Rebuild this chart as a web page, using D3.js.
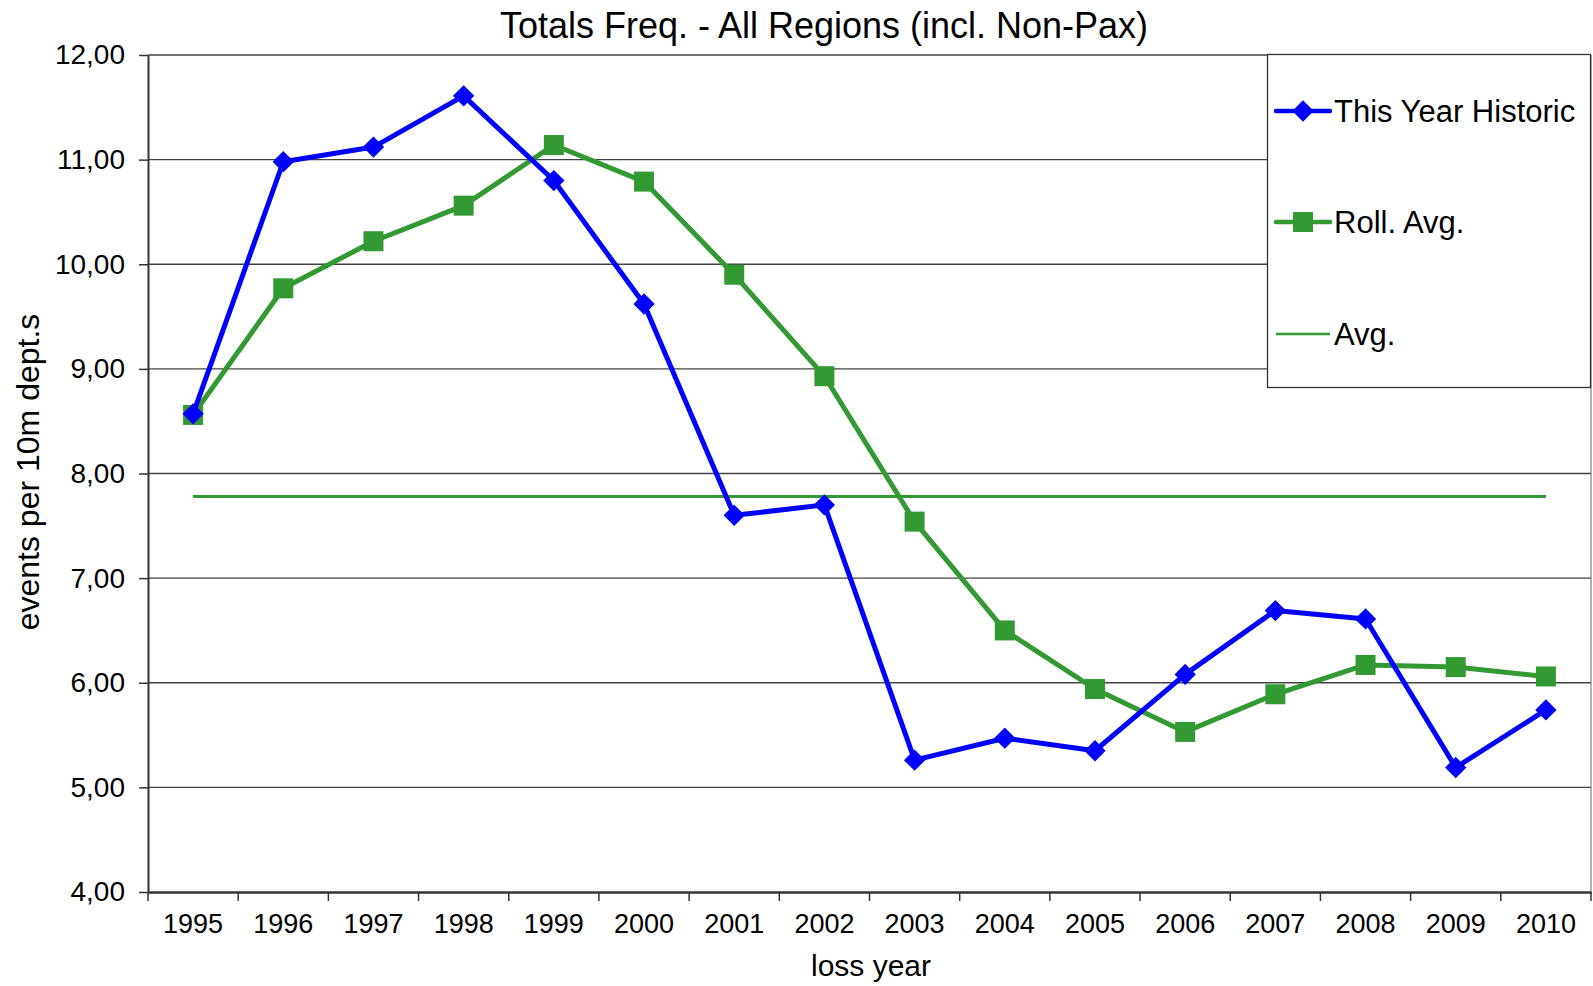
<!DOCTYPE html>
<html>
<head>
<meta charset="utf-8">
<script src="https://cdn.jsdelivr.net/npm/d3@7"></script>
<style>
  body { margin: 0; background: #fff; }
  text { font-family: "Liberation Sans", Arial, sans-serif; fill: #000; }
</style>
</head>
<body>
<div id="canvas"></div>
<script>
var years = ["1995","1996","1997","1998","1999","2000","2001","2002","2003","2004","2005","2006","2007","2008","2009","2010"];
var thisYear = [8.57, 10.98, 11.12, 11.61, 10.80, 9.62, 7.60, 7.70, 5.26, 5.47, 5.35, 6.08, 6.69, 6.61, 5.19, 5.74];
var rollAvg = [8.56, 9.77, 10.22, 10.56, 11.14, 10.79, 9.90, 8.93, 7.54, 6.50, 5.94, 5.53, 5.89, 6.17, 6.15, 6.06];
var avgValue = 7.78;
var yTicks = [4, 5, 6, 7, 8, 9, 10, 11, 12];

const W = 1593, H = 986;
const margin = {top: 55, right: 2, bottom: 94, left: 148};
const width = W - margin.left - margin.right;
const height = H - margin.top - margin.bottom;

const svg = d3.select("#canvas")
  .append("svg")
    .attr("width", W)
    .attr("height", H);

const g = svg.append("g")
    .attr("transform", "translate(" + margin.left + "," + margin.top + ")");

const x = d3.scaleBand()
    .domain(years)
    .range([0, width])
    .padding(0);

const y = d3.scaleLinear()
    .domain([4, 12])
    .range([height, 0]);

const fmt = function(d) { return d3.format(".2f")(d).replace(".", ","); };

// gridlines
g.append("g")
  .selectAll("line")
  .data(yTicks.slice(1))
  .enter()
  .append("line")
    .attr("x1", 0)
    .attr("x2", width)
    .attr("y1", function(d) { return y(d); })
    .attr("y2", function(d) { return y(d); })
    .attr("stroke", "#444")
    .attr("stroke-width", 1.3);

// Y axis
const yAxis = g.append("g")
    .call(d3.axisLeft(y).tickValues(yTicks).tickFormat(fmt).tickSize(9).tickSizeOuter(0).tickPadding(14));
yAxis.select(".domain").attr("stroke", "#333").attr("stroke-width", 2);
yAxis.selectAll(".tick line").attr("stroke", "#333").attr("stroke-width", 1.5);
yAxis.selectAll("text").style("font-size", "28px").attr("fill", "#000");

// X axis (labels centred, ticks between categories)
const xAxis = g.append("g")
    .attr("transform", "translate(0," + height + ")")
    .call(d3.axisBottom(x).tickSize(0).tickPadding(22));
xAxis.select(".domain").attr("stroke", "#333").attr("stroke-width", 2.5);
xAxis.selectAll("text").style("font-size", "27px").attr("fill", "#000");

g.append("g")
  .selectAll("line")
  .data(years.concat(["end"]))
  .enter()
  .append("line")
    .attr("x1", function(d, i) { return i * x.bandwidth(); })
    .attr("x2", function(d, i) { return i * x.bandwidth(); })
    .attr("y1", height)
    .attr("y2", height + 9)
    .attr("stroke", "#333")
    .attr("stroke-width", 1.5);

// right border of plot
g.append("line")
    .attr("x1", width).attr("x2", width)
    .attr("y1", 0).attr("y2", height)
    .attr("stroke", "#666")
    .attr("stroke-width", 1);

const cx = function(i) { return x(years[i]) + x.bandwidth() / 2; };

// Avg line
g.append("line")
    .attr("x1", cx(0))
    .attr("x2", cx(years.length - 1))
    .attr("y1", y(avgValue))
    .attr("y2", y(avgValue))
    .attr("stroke", "#339933")
    .attr("stroke-width", 3);

const line = d3.line()
    .x(function(d, i) { return cx(i); })
    .y(function(d) { return y(d); });

// Roll. Avg.
g.append("path")
    .datum(rollAvg)
    .attr("d", line)
    .attr("fill", "none")
    .attr("stroke", "#339933")
    .attr("stroke-width", 5)
    .attr("stroke-linejoin", "round");

g.append("g")
  .selectAll("rect")
  .data(rollAvg)
  .enter()
  .append("rect")
    .attr("x", function(d, i) { return cx(i) - 10; })
    .attr("y", function(d) { return y(d) - 10; })
    .attr("width", 20)
    .attr("height", 20)
    .attr("fill", "#339933");

// This Year Historic
g.append("path")
    .datum(thisYear)
    .attr("d", line)
    .attr("fill", "none")
    .attr("stroke", "#0000ff")
    .attr("stroke-width", 5)
    .attr("stroke-linejoin", "round");

const diamond = d3.symbol().type(d3.symbolDiamond2).size(290);

g.append("g")
  .selectAll("path")
  .data(thisYear)
  .enter()
  .append("path")
    .attr("d", diamond)
    .attr("transform", function(d, i) { return "translate(" + cx(i) + "," + y(d) + ")"; })
    .attr("fill", "#0000ff");

// Title and axis titles
svg.append("text")
    .attr("x", 824)
    .attr("y", 38)
    .attr("text-anchor", "middle")
    .style("font-size", "36px")
    .text("Totals Freq. - All Regions (incl. Non-Pax)");

svg.append("text")
    .attr("transform", "translate(39,472) rotate(-90)")
    .attr("text-anchor", "middle")
    .style("font-size", "32px")
    .text("events per 10m dept.s");

svg.append("text")
    .attr("x", 871)
    .attr("y", 976)
    .attr("text-anchor", "middle")
    .style("font-size", "30px")
    .text("loss year");

// Legend
const legend = svg.append("g");
legend.append("rect")
    .attr("x", 1267.5)
    .attr("y", 54.5)
    .attr("width", 323)
    .attr("height", 333)
    .attr("fill", "#fff")
    .attr("stroke", "#333")
    .attr("stroke-width", 1.3);

const legendItems = [
  {name: "This Year Historic", color: "#0000ff", mark: "diamond", y: 111},
  {name: "Roll. Avg.", color: "#339933", mark: "square", y: 222},
  {name: "Avg.", color: "#339933", mark: "none", y: 334}
];

legendItems.forEach(function(it) {
  legend.append("line")
      .attr("x1", 1276).attr("x2", 1330)
      .attr("y1", it.y).attr("y2", it.y)
      .attr("stroke", it.color)
      .attr("stroke-width", it.mark === "none" ? 2.5 : 4.5)
      .attr("stroke-linecap", it.mark === "none" ? "butt" : "round");
  if (it.mark === "diamond") {
    legend.append("path")
        .attr("d", diamond)
        .attr("transform", "translate(1303," + it.y + ")")
        .attr("fill", it.color);
  } else if (it.mark === "square") {
    legend.append("rect")
        .attr("x", 1293).attr("y", it.y - 10)
        .attr("width", 20).attr("height", 20)
        .attr("fill", it.color);
  }
  legend.append("text")
      .attr("x", 1334)
      .attr("y", it.y + 11)
      .style("font-size", "31px")
      .text(it.name);
});
</script>
</body>
</html>
